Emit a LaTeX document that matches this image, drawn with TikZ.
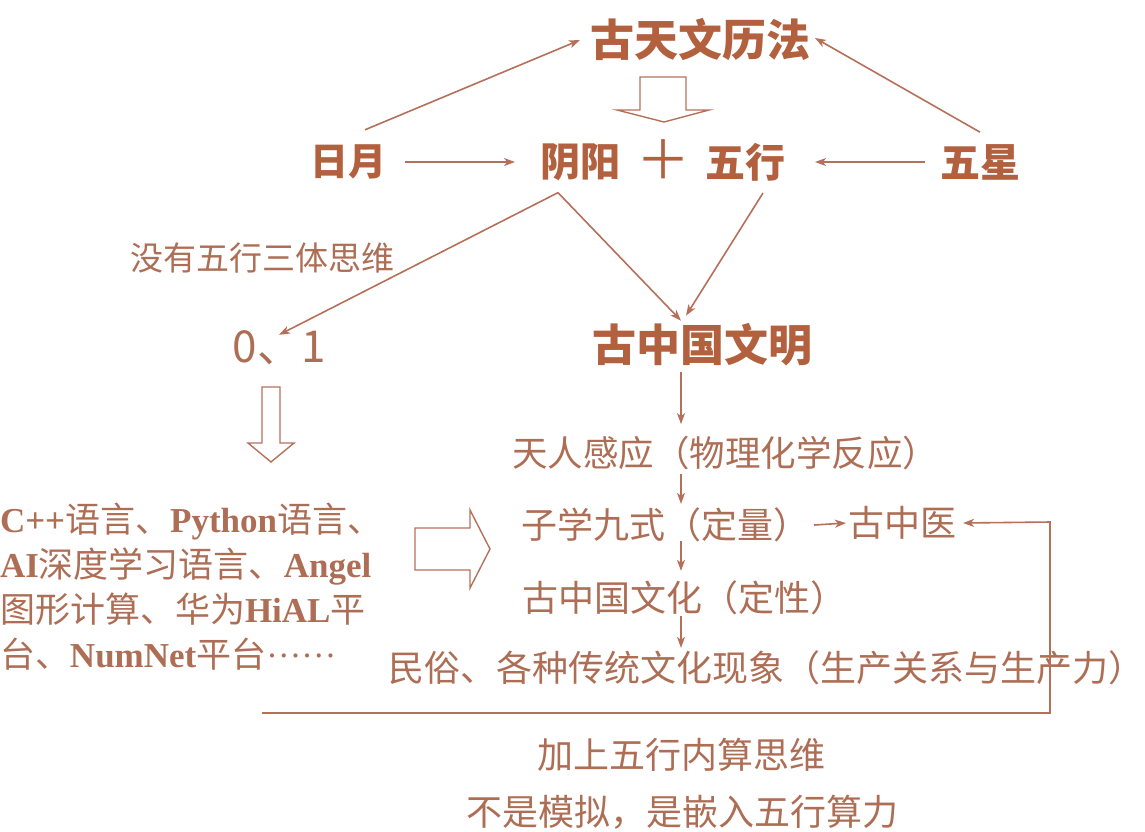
\documentclass[tikz,border=0pt]{standalone}
\usepackage{fontspec}
\setmainfont{Liberation Serif}
\newfontfamily\cjk{Noto Sans CJK SC}
\usetikzlibrary{arrows.meta}
\definecolor{head}{HTML}{B2603E}
\definecolor{body}{HTML}{AE6E55}
\definecolor{ln}{HTML}{B5705A}
\tikzset{
  base/.style={inner sep=0pt, outer sep=0pt},
  hd/.style={base, text=head, font=\cjk\bfseries\fontsize{#1}{#1}\selectfont},
  hd/.default=40,
  bd/.style={base, text=body, font=\cjk\fontsize{#1}{#1}\selectfont},
  bd/.default=36,
  arr/.style={draw=ln, line width=1.6pt, -{Stealth[length=11pt,width=8pt,inset=3pt]}},
  hollow/.style={draw=ln, line width=1.4pt, line join=miter},
}
\begin{document}
\begin{tikzpicture}[x=1pt,y=-1pt]
\useasboundingbox (0,0) rectangle (1145,831);
% top row
\node[hd=44] (tw) at (700,40) {古天文历法};
\node[hd=38] (ry) at (348,162) {日月};
\node[hd=40] (yy) at (580,162) {阴阳};
\node[base, text=head, font=\cjk\fontsize{54}{54}\selectfont] (plus) at (663,160) {＋};
\node[hd=40] (wh) at (745,162) {五行};
\node[hd=40] (wx) at (980,162) {五星};
\node[hd=44] (gzwm) at (702,345) {古中国文明};
\node[bd=33] (lab) at (262,258) {没有五行三体思维};
\node[base, text=body, font=\cjk\fontsize{44}{44}\selectfont] (zo) at (279,348) {0、1};
% hollow arrows
\draw[hollow] (640,77) -- (686,77) -- (686,110) -- (709,110) -- (664,122) -- (617,110) -- (640,110) -- cycle;
\draw[hollow] (262,387) -- (280,387) -- (280,443) -- (294,443) -- (271,462) -- (248,443) -- (262,443) -- cycle;
\draw[hollow] (415,528) -- (470,528) -- (470,510) -- (490,549) -- (470,588) -- (470,570) -- (415,570) -- cycle;
% left block
\node[base, text=body, anchor=north west, align=left, font=\fontsize{35}{45}\selectfont\bfseries] (code) at (0,503)
 {C++{\cjk\mdseries 语言、}Python{\cjk\mdseries 语言、}\\
  AI{\cjk\mdseries 深度学习语言、}Angel\\
  {\cjk\mdseries 图形计算、华为}HiAL{\cjk\mdseries 平}\\
  {\cjk\mdseries 台、}NumNet{\cjk\mdseries 平台}{\mdseries\raisebox{0.28em}{……}}};
% right column
\coordinate (colx) at (681,0);
\node[bd=35.5] (trgy) at (725,453) {天人感应（物理化学反应）};
\node[bd] (zx) at (665,525) {子学九式（定量）};
\node[bd] (gzy) at (902,523) {古中医};
\node[bd] (whua) at (684,598) {古中国文化（定性）};
\node[bd] (ms) at (766,668) {民俗、各种传统文化现象（生产关系与生产力）};
\node[bd] (add) at (681,755) {加上五行内算思维};
\node[bd] (emb) at (682,812) {不是模拟，是嵌入五行算力};
% connectors top
\draw[arr] ([xshift=17pt,yshift=15pt]ry.north) -- ([xshift=-10pt]tw.west);
\draw[arr] ([yshift=12pt]wx.north) -- ([xshift=5pt,yshift=2pt]tw.east);
\draw[arr] ([xshift=19pt]ry.east) -- ([xshift=-25pt]yy.west);
\draw[arr] ([xshift=-15pt]wx.west) -- ([xshift=30pt]wh.east);
\coordinate (apex) at ([xshift=-22pt,yshift=-12pt]yy.south);
\draw[arr] (apex) -- ([yshift=-4pt]zo.north);
\draw[arr] (apex) -- ([xshift=-21pt,yshift=3pt]gzwm.north);
\draw[arr] ([xshift=18pt,yshift=-12pt]wh.south) -- ([xshift=-16pt,yshift=8pt]gzwm.north);
% right column connectors
\draw[arr] ([yshift=-6pt]gzwm.south -| colx) -- ([yshift=12pt]trgy.north -| colx);
\draw[arr] ([yshift=-4pt]trgy.south -| colx) -- ([yshift=4pt]zx.north -| colx);
\draw[arr] ([yshift=1pt]zx.south -| colx) -- ([yshift=10pt]whua.north -| colx);
\draw[arr] ([yshift=-1pt]whua.south -| colx) -- ([yshift=3pt]ms.north -| colx);
\draw[arr] ([xshift=5pt]zx.east) -- ([xshift=-2pt]gzy.west);
\coordinate (loopstart) at (262,713);
\draw[arr] (loopstart) -- (1050,713) -- (1050,522) -- ([xshift=7pt]gzy.east);
\end{tikzpicture}
\end{document}
